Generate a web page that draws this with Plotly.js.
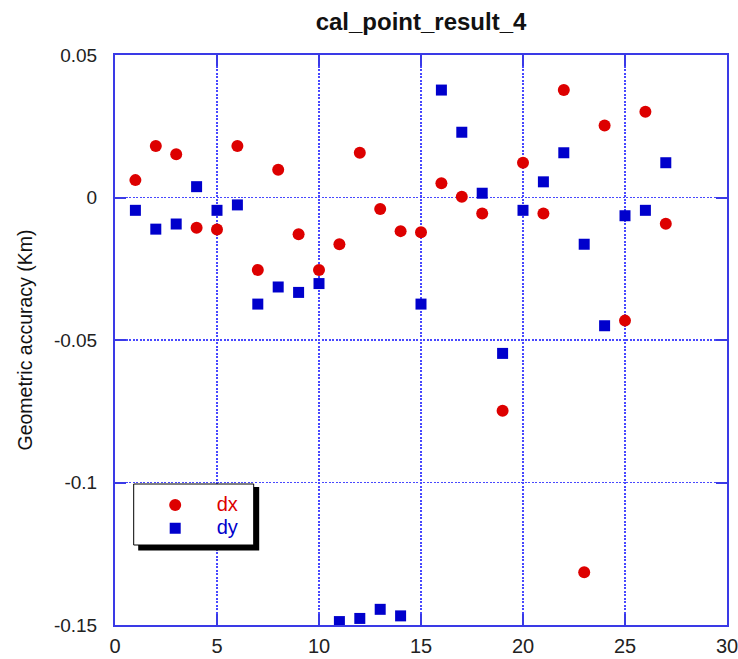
<!DOCTYPE html>
<html>
<head>
<meta charset="utf-8">
<script src="https://cdn.plot.ly/plotly-3.0.1.min.js"></script>
<style>
  html, body { margin: 0; padding: 0; background: #ffffff; }
  #chart { width: 738px; height: 659px; }
</style>
</head>
<body>
<div id="chart"></div>
<script>
// Calibration point index
const pointIndex = [1, 2, 3, 4, 5, 6, 7, 8, 9, 10, 11, 12, 13, 14, 15, 16, 17, 18, 19, 20, 21, 22, 23, 24, 25, 26, 27];

// Geometric error in x (Km)
const dxValues = [0.0061, 0.0181, 0.0152, -0.0106, -0.0112, 0.0181, -0.0254, 0.0097, -0.0129, -0.0254,
                  -0.0164, 0.0157, -0.0040, -0.0118, -0.0122, 0.0050, 0.0003, -0.0056, -0.0748, 0.0122,
                  -0.0056, 0.0377, -0.1315, 0.0253, -0.0432, 0.0301, -0.0092];

// Geometric error in y (Km)
const dyValues = [-0.0045, -0.0111, -0.0093, 0.0038, -0.0045, -0.0026, -0.0374, -0.0314, -0.0333, -0.0302,
                  -0.1488, -0.1477, -0.1445, -0.1468, -0.0374, 0.0377, 0.0229, 0.0015, -0.0547, -0.0045,
                  0.0055, 0.0157, -0.0164, -0.0450, -0.0064, -0.0045, 0.0122];

const seriesNames = ['dx', 'dy'];
const xTicks = [0, 5, 10, 15, 20, 25, 30];
const yTicks = [0.05, 0, -0.05, -0.1, -0.15];
const yTickText = ['0.05', '0', '-0.05', '-0.1', '-0.15'];

const RED = '#dd0000';
const BLUE = '#0000cc';
const AXIS = '#3a3ae6';
const GRID = '#4848ff';
const FONT = 'Liberation Sans, Arial, Helvetica, sans-serif';

// plot area size in pixels, used to place the legend frame
const PW = 612, PH = 570;
const px = (v) => v / PW;
const py = (v) => v / PH;

const traces = [
  {
    x: pointIndex, y: dxValues, type: 'scatter', mode: 'markers',
    name: '<span style="color:' + RED + ';font-size:20px">' + seriesNames[0] + '</span>',
    marker: { symbol: 'circle', size: 12, color: RED }
  },
  {
    x: pointIndex, y: dyValues, type: 'scatter', mode: 'markers',
    name: '<span style="color:' + BLUE + ';font-size:20px">' + seriesNames[1] + '</span>',
    marker: { symbol: 'square', size: 11, color: BLUE }
  }
];

const axisCommon = {
  showline: true, linecolor: AXIS, linewidth: 2, mirror: 'ticks',
  ticks: 'inside', ticklen: 11, tickwidth: 2, tickcolor: AXIS,
  showgrid: true, gridcolor: GRID, gridwidth: 1.3, griddash: '2px,1.5px',
  zeroline: false,
  ticklabeloverflow: 'allow'
};

const layout = {
  width: 738, height: 659,
  paper_bgcolor: '#ffffff', plot_bgcolor: '#ffffff',
  margin: { l: 115, r: 11, t: 55, b: 34 },
  showlegend: true,
  title: {
    text: '<b>cal_point_result_4</b>',
    font: { family: FONT, size: 24, color: '#111111' },
    x: 0.5, xref: 'paper', xanchor: 'center', y: 0.967, yanchor: 'middle'
  },
  xaxis: Object.assign({}, axisCommon, {
    range: [0, 30], tickvals: xTicks, ticktext: xTicks.map(String),
    tickfont: { family: FONT, size: 20, color: '#222222' },
    ticklabelstandoff: 2
  }),
  yaxis: Object.assign({}, axisCommon, {
    range: [-0.15, 0.05], tickvals: yTicks, ticktext: yTickText,
    tickfont: { family: FONT, size: 19, color: '#222222' },
    ticklabelstandoff: 12,
    title: {
      text: 'Geometric accuracy (Km)',
      font: { family: FONT, size: 19.5, color: '#111111' },
      standoff: 16
    }
  }),
  legend: {
    x: px(134 - 115.3), xanchor: 'left', y: py(625 - 488.5), yanchor: 'top',
    bgcolor: 'rgba(0,0,0,0)', borderwidth: 0,
    font: { family: FONT, size: 15.5 },
    itemwidth: 73,
    tracegroupgap: 0
  },
  shapes: [
    {
      // drop shadow of the legend frame
      type: 'rect', xref: 'paper', yref: 'paper',
      x0: px(138.5 - 115.3), x1: px(259.5 - 115.3),
      y0: py(625 - 550.5), y1: py(625 - 487),
      fillcolor: '#000000', line: { width: 0 }, layer: 'above'
    },
    {
      // legend frame
      type: 'rect', xref: 'paper', yref: 'paper',
      x0: px(134 - 115.3), x1: px(254 - 115.3),
      y0: py(625 - 545), y1: py(625 - 484),
      fillcolor: '#ffffff', line: { width: 1, color: '#000000' }, layer: 'above'
    }
  ]
};

Plotly.newPlot('chart', traces, layout, { displayModeBar: false, staticPlot: true });
</script>
</body>
</html>
